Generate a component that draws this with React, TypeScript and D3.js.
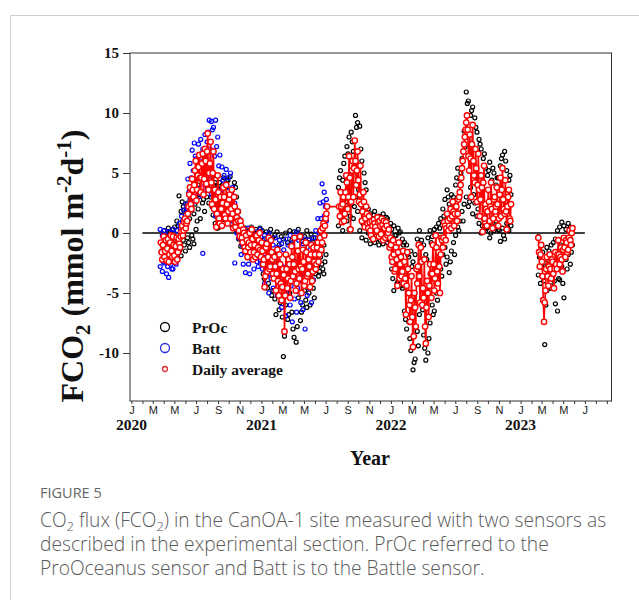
import React, { useEffect, useRef } from "react";
import * as d3 from "d3";

// Daily average FCO2 (mmol m-2 d-1), read every 2 days (two interleaved runs, 4-day step each)
const AVG_STEP = 4;
const avgStart1 = "2020-03-24";
const avg1 = [
  -0.8, -2.2, -0.3, -1.5, -2.3, -0.5, -1.8, -0.2, -2.0, -1.0, -2.4, -0.4, -1.6, -0.9,
  -0.3, 0.6, 0.2, 1.2, 0.8,
  1.6, 3.2, 2.4, 4.5,
  3.0, 5.2, 2.7, 4.8, 6.5, 3.4,
  5.8, 3.2, 7.0, 4.1, 8.3, 5.0, 7.6,
  2.4, 6.8, 3.6,
  0.5, 4.8, 1.2, 3.0,
  0.6, 3.8, 1.5, 4.0, 0.8, 2.8, 1.2, 3.6, 0.4, 2.2, 0.9, 1.8,
  0.2, 1.0, -0.4, 0.3,
  -1.2, -0.2, -2.0, -0.8, -1.6, 0.3, -2.2, -1.0, -0.3, -1.8, -0.6, -1.4,
  -0.8, -2.6, -4.5, -1.2, -3.2, -0.4, -2.8, -1.6, -3.4,
  -2.0, -4.8, -1.4, -5.2, -2.6, -5.6, -3.0, -8.2, -1.8, -4.6, -2.2, -5.4, -1.1,
  -3.6, -0.4, -4.8, -1.5, -3.0, -0.3, -5.0,
  -1.4, -4.4, -0.8, -3.6, -2.2, -4.5, -1.0, -3.2, -2.4,
  -3.0, -1.2, -2.4, -0.4, -1.4, 0.4, -0.2, 1.2,
  2.2,
];
const avgStart1b = "2020-03-26";
const avg1b = [
  -1.6, -1.0, -2.0, -0.6, -1.3, -2.4, -0.8, -1.5, -0.3, -1.9, -1.1, -2.2, -0.5,
  -1.2,
  0.1, -0.2, 0.9, 0.4,
  1.0, 2.2, 3.8, 2.0,
  3.6, 4.0, 6.0, 3.6, 5.5, 4.6,
  4.6, 6.6, 4.5, 6.0, 6.8, 3.6, 5.8,
  4.2, 5.0, 2.0,
  2.8, 1.6, 3.4, 0.8,
  2.0, 2.5, 3.0, 1.2, 2.4, 1.8, 3.2, 2.0, 1.6, 3.0, 0.5, 1.3,
  1.0, -0.3, 0.6, -0.8,
  0.0, -1.5, -0.6, -1.2, 0.0, -1.0, -0.5, -1.6, -2.0, -0.2, -1.2, 0.0,
  -2.0, -1.5, -2.2, -3.6, -0.9, -2.0, -3.0, -0.6, -2.2,
  -3.8, -2.8, -3.4, -4.0, -1.8, -4.2, -4.5, -3.5, -5.2, -3.0, -3.8, -2.6, -4.0,
  -2.0, -2.6, -3.2, -4.2, -1.5, -3.8, -2.8,
  -3.0, -2.4, -4.0, -1.6, -3.4, -2.8, -1.8, -4.0, -1.2,
  -1.8, -2.6, -0.8, -1.8, 0.2, -0.8, 0.8, 0.6, 1.6,
];
const avgStart2 = "2021-08-08";
const avg2 = [
  2.2, 3.4, 0.9, 3.0, 1.6,
  4.8, 2.0, 6.4, 0.3, 5.2, 3.0,
  7.7, 4.0, 6.8, 2.6, 5.6,
  1.0, 3.4, 0.5, 2.2, 0.8,
  1.4, 0.2, 1.0, -0.5, 0.8, 0.1, 1.3, -0.3, 0.6, 1.2, -0.6, 0.4, 0.9, -0.2, 0.3,
  -0.4, -2.0, -0.6, -3.2, -1.2, -4.4, -0.8, -2.6, -3.6, -1.5,
  -2.4, -6.8, -1.6, -5.0, -7.4,
  -3.6, -9.5, -5.0, -7.8, -4.2,
  -1.0, -5.8, -2.4, -4.6,
  -2.2, -9.2, -4.0, -7.0, -2.6, -5.4,
  -1.0, -4.8, -0.2, -3.2, -1.6, -5.0, -0.4,
  -1.2, 0.9, -0.6, 1.6, 0.2, 1.2, 0.4,
  2.6, 0.6, 2.2, 1.0, 2.8,
  3.4, 4.6, 6.0, 7.4, 8.6,
  9.8, 6.4, 8.2, 3.0, 9.0, 4.8, 7.0, 2.6,
  6.6, 1.4, 4.8, 0.1, 5.6, 2.4, 0.6,
  3.6, 1.0, 4.2, 0.4, 2.8, 1.8, 3.8,
  0.6, 3.2, 1.4, 5.4, 2.0, 4.4, 0.3, 3.0, 1.2, 2.4,
];
const avgStart2b = "2021-08-10";
const avg2b = [
  1.4, 2.2, 2.4, 1.0,
  3.4, 4.2, 3.0, 4.6, 2.6, 6.0,
  5.4, 6.0, 5.2, 4.4, 3.2,
  2.4, 1.8, 2.6, 1.2, 1.6,
  0.4, 0.9, -0.2, 0.6, 1.1, 0.5, 0.2, 0.9, 1.0, -0.1, 0.7, 1.0, -0.4, 0.6, 0.0,
  -1.2, -1.0, -2.4, -1.8, -3.0, -2.2, -1.6, -3.8, -2.0, -3.2,
  -4.2, -3.8, -4.4, -3.0, -6.0,
  -5.6, -7.0, -8.6, -6.2, -3.0,
  -2.8, -3.6, -1.2, -6.0,
  -5.4, -7.8, -6.2, -5.0, -4.4, -3.4,
  -3.4, -2.6, -3.8, -1.2, -4.2, -2.8, -1.8,
  -0.6, -0.4, 0.6, 0.4, 1.0, 0.6, 2.0,
  1.4, 1.8, 1.6, 2.2, 1.6,
  3.0, 4.0, 5.4, 6.8, 8.0,
  9.2, 8.6, 5.2, 6.2, 7.4, 6.0, 4.2, 5.4,
  4.0, 3.6, 2.8, 3.8, 4.2, 1.2, 2.0,
  1.8, 2.6, 2.2, 2.0, 1.2, 3.0, 2.2,
  2.4, 1.2, 4.6, 3.6, 2.8, 1.6, 1.8, 2.2, 3.6, 1.0,
];
const avgStart3 = "2023-02-20";
const avg3 = [
  -0.4, -2.8, -1.0, -3.6, -7.4, -4.8, -2.0, -4.4, -1.8, -3.8, -2.4, -4.6, -1.6,
  -3.0, -0.6, -2.6, -1.2, -3.2, -0.4, -2.0, -0.8, -1.4, 0.2, -1.0, 0.4,
];
const avgStart3b = "2023-02-22";
const avg3b = [
  -1.6, -1.8, -2.4, -5.6, -5.8, -3.0, -3.6, -2.8, -3.0, -2.2, -3.4, -3.0,
  -2.6, -1.8, -1.8, -2.0, -2.2, -1.4, -1.2, -0.6, -1.6, -0.4, -0.6, 0.0,
];

// PrOc sensor: upper, lower and in-between readings, every 6 days
const SENSOR_STEP = 6;
const procStart1 = "2020-04-02";
const procHi1 = [
  0.2, -0.3, 0.4, 0.1, 0.3, 0.5, 1.0,
  3.1, 1.8, 2.2, 1.5, 2.5, 1.2, 2.0, 1.6, 3.0,
  4.0, 5.5, 4.5, 6.0, 5.0,
  6.8, 5.5, 4.8, 4.2, 3.8,
  4.2, 3.5, 4.6, 3.8, 4.4, 4.7, 3.6, 4.2, 3.0, 1.8,
  0.6, 0.3, 0.4, -0.1, 0.2, 0.5, 0.0, 0.3, -0.2, 0.4,
  0.2, -0.5, 0.1, -0.8, 0.3, -0.4, -0.2, 0.1, -1.0, -0.3,
  -0.5, 0.0, -0.8, 0.2, -0.6, 0.1, -0.4, 0.3, -0.2, -0.7,
  -0.3, 0.2, -0.5, -0.1, -0.8, -0.4, -1.2, -0.6, -1.5, -1.0, 1.5,
];
const procLo1 = [
  -1.5, -2.2, -1.0, -1.8, -2.4, -1.2, -0.8,
  -1.0, -1.9, -0.6, -1.5, -0.4, -1.2, -0.2, -0.9, 0.3,
  2.0, 1.2, 2.5, 1.8, 3.0,
  2.5, 3.0, 1.5, 0.8, 0.4,
  0.5, 1.2, 0.8, 1.9, 1.0, 2.2, 0.5, 1.4, 0.2, -0.5,
  -1.1, -0.6, -0.9, -1.1, -0.4, -0.8, -1.0, -0.5, -1.2, -0.7,
  -2.5, -3.8, -2.0, -4.2, -3.0, -4.8, -5.5, -3.6, -6.4, -4.5,
  -10.3, -6.0, -7.2, -5.0, -6.6, -8.7, -9.1, -5.4, -7.3, -6.0,
  -4.8, -6.2, -5.0, -3.8, -4.6, -3.4, -2.8, -3.2, -2.6, -3.4, -1.8,
];
const procStart1m = "2020-04-05";
const procMid1 = [
  -0.6, -1.8, 0.0, -2.0, -0.4, -1.5, 0.6,
  -1.4, 2.6, -1.0, 1.9, -0.8, 2.2, -0.5, 2.4, 1.0,
  3.2, 4.6, 2.8, 5.2, 3.8,
  5.6, 2.2, 4.0, 1.6, 2.8,
  1.4, 4.0, 2.0, 4.4, 1.6, 3.6, 1.2, 3.8, 1.0, 0.6,
  -0.6, 0.0, -1.0, -0.3, -0.8, 0.2, -0.6, -1.0, 0.0, -0.9,
  -3.4, -1.0, -4.6, -2.0, -5.2, -1.6, -6.8, -2.4, -5.8, -7.0,
  -8.6, -3.0, -6.8, -2.6, -8.0, -4.0, -7.8, -2.4, -6.6, -3.6,
  -5.6, -2.4, -6.0, -3.0, -5.4, -2.2, -3.6, -2.0, -3.0, -2.4,
];
const procStart2 = "2021-08-06";
const procHi2 = [
  3.8, 5.2, 4.4, 6.4, 7.2,
  8.0, 8.4, 6.8, 9.8, 9.2,
  8.9, 6.0, 5.0, 3.6, 2.0,
  1.6, 1.2, 1.8, 0.9, 1.4, 1.0, 1.6, 0.8, 1.2, 0.5,
  0.3, 0.6, -0.2, 0.4, 0.1, -0.5,
  -0.8, -1.0, -2.0, -1.5,
  -2.4, -1.8, -0.5, 0.2, -0.6,
  -1.0, -1.8, -0.4, 0.2, -0.3,
  0.3, 0.5, 0.8, 1.2, 2.0,
  2.8, 3.6, 2.4, 3.2, 3.0,
  4.0, 5.4, 4.5, 6.2, 8.5,
  11.75, 11.0, 9.8, 10.5, 9.6, 8.4,
  7.8, 7.0, 6.2, 5.4, 4.8,
  5.9, 4.4, 5.0, 4.0, 4.6,
  5.6, 6.5, 6.8, 5.2, 4.4, 3.2,
];
const procLo2 = [
  0.6, 1.4, 0.2, 2.0, 1.0,
  0.3, 2.4, 1.2, 3.0, 1.8,
  0.2, -0.4, 1.0, -0.6, 0.0,
  -0.9, -0.3, -0.8, -0.5, -1.0, -0.4, -0.9, -0.2, -0.8, -0.6,
  -3.0, -4.8, -2.2, -4.0, -3.4, -4.6,
  -6.5, -8.0, -7.4, -9.8,
  -11.4, -10.5, -8.2, -6.8, -5.4,
  -8.5, -10.6, -10.0, -7.5, -6.0,
  -6.5, -5.0, -4.2, -3.0, -1.8,
  -1.2, -2.0, -3.3, -1.5, -0.8,
  -0.2, 0.5, 1.0, 1.8, 2.4,
  3.0, 2.2, 3.8, 1.6, 2.5, 1.4,
  0.8, 0.0, 1.2, 0.2, 0.5,
  -0.4, 0.6, 0.2, 1.0, 0.3,
  -0.7, 0.4, -0.5, 0.8, 0.2, 0.6,
];
const procStart2m = "2021-08-09";
const procMid2 = [
  4.6, 1.2, 5.8, 2.6, 6.6,
  1.4, 7.6, 2.2, 8.8, 3.6,
  7.0, 0.8, 4.2, 0.4, 1.4,
  -0.4, 1.5, 0.2, 1.2, -0.6, 0.9, 0.0, 1.3, -0.3, 0.8,
  -3.8, -0.2, -4.2, 0.0, -4.4, -1.0,
  -7.2, -1.8, -8.8, -2.8,
  -10.8, -3.0, -9.4, -1.0, -6.4,
  -9.6, -2.2, -8.8, -0.8, -6.8,
  -0.2, -5.6, 0.4, -3.6, 1.4,
  -2.6, 3.0, -2.4, 2.6, -1.8,
  4.6, 0.2, 5.0, 1.0, 7.2,
  10.8, 2.6, 10.2, 3.2, 8.8, 2.0,
  7.4, 0.6, 6.6, 0.4, 5.2,
  0.0, 5.4, 0.6, 4.6, 0.2,
  6.2, -0.2, 6.0, 0.4, 4.8,
];
const procStart3 = "2023-02-20";
const procHi3 = [-0.3, -1.0, -1.6, -2.5, -1.2, -1.5, -1.0, -0.8, -0.5, 0.2, 0.5, 0.9, 0.6, 0.3, 0.8, 0.5, 0.4];
const procLo3 = [-3.5, -4.2, -5.6, -9.3, -4.8, -3.6, -4.4, -3.2, -5.9, -6.5, -3.9, -2.8, -5.4, -2.2, -1.8, -2.6, -1.0];
const procStart3m = "2023-02-23";
const procMid3 = [-2.0, -2.8, -4.0, -6.0, -2.6, -4.6, -2.4, -4.0, -1.6, -3.8, -1.0, -4.2, -0.4, -3.0, 0.2, -1.6];

// Batt sensor: upper, lower and in-between readings, every 6 days
const battStart = "2020-03-22";
const battHi = [
  0.3, -0.2, 0.2, -0.5, 0.1, -0.8, 0.3, -0.3, 0.2,
  0.8, 1.4, 1.9, 2.4,
  4.5, 5.8, 6.9, 7.5, 6.2, 7.4,
  7.8, 7.0, 8.2, 7.6,
  9.4, 9.3, 8.8, 9.4, 8.0,
  6.5, 5.5, 4.8, 5.3, 4.6,
  5.0, 3.8, 2.5, 1.8, 1.2,
  0.5, 0.3, 0.0, 0.4, -0.3, 0.2, -0.5, 0.1, -0.2, 0.3,
  -0.6, -0.2, -0.8, 0.0, -0.5, -1.0, -0.4, -1.2, -0.6, -0.9,
  -1.4, -0.5, -1.0, -0.2, -0.8, -0.4, 0.1, -0.6, -0.3, -0.9,
  -0.5, -1.2, -0.6, -1.0, -0.4,
  0.2, 1.2, 2.5, 4.1, 3.4, 2.8,
];
const battLo = [
  -2.8, -3.2, -2.5, -3.4, -3.7, -2.6, -3.0, -2.2, -1.5,
  -0.4, 0.0, 0.5, 1.0,
  2.0, 2.8, 3.5, 2.6, 3.8, 3.0,
  3.4, -1.7, 4.0, 3.6,
  4.5, 3.2, 2.0, 1.4, 2.4,
  1.6, 2.4, 1.5, 2.0, 1.8,
  1.2, 1.0, -2.5, 0.0, -0.4,
  -1.8, -2.6, -3.3, -2.0, -3.4, -2.2, -3.0, -1.7, -2.8, -2.3,
  -3.0, -4.2, -3.5, -5.0, -3.8, -4.6, -2.8, -5.2, -4.0, -6.2,
  -5.4, -6.9, -4.8, -6.0, -7.4, -5.5, -6.6, -4.9, -5.8, -6.4,
  -8.0, -5.2, -4.6, -5.8, -3.9,
  -2.8, -2.0, -1.2, 0.5, 1.4, 1.0,
];
const battStartM = "2020-03-25";
const battMid = [
  -1.6, -2.4, -0.8, -2.8, -1.2, -3.0, -1.0, -2.6, -0.6,
  0.4, 1.0, 1.2, 2.0,
  3.4, 4.6, 5.2, 6.4, 4.8, 6.0,
  5.8, 6.4, 5.4, 8.4,
  7.0, 8.6, 6.4, 7.2, 5.6,
  3.6, 4.4, 3.0, 3.8, 2.8,
  3.4, 2.2, 1.4, 0.8, 0.4,
  -1.0, -1.6, -0.8, -2.6, -1.4, -0.8, -1.8, -2.4, -1.0, -1.4,
  -2.0, -3.0, -1.8, -3.4, -2.4, -2.8, -3.6, -2.4, -3.8, -2.8,
  -3.4, -4.0, -2.6, -4.4, -3.0, -2.4, -4.6, -2.8, -4.0, -3.4,
  -3.0, -2.4, -3.2, -2.0, -2.4,
  -1.4, 0.0, 1.2, 2.6, 2.2,
];

const yTicks = [15, 10, 5, 0, -5, -10];
const monthLetters = ["J", "F", "M", "A", "M", "J", "J", "A", "S", "O", "N", "D"];
const xStart = "2019-12-28";
const xEnd = "2023-09-14";
const zeroFrom = "2020-02-01";
const zeroTo = "2023-07-01";
const legendItems = ["PrOc", "Batt", "Daily average"];

const figureLabel = "FIGURE 5";
// "{2}" marks a subscript 2
const captionLines = [
  "CO{2} flux (FCO{2}) in the CanOA-1 site measured with two sensors as",
  "described in the experimental section. PrOc referred to the",
  "ProOceanus sensor and Batt is to the Battle sensor.",
];

const serif = "'Liberation Serif', 'Times New Roman', serif";
const sans = "'Liberation Sans', Arial, sans-serif";
const captionFont = "'Open Sans', sans-serif";

type Pt = { date: Date; value: number };

export default function App() {
  const ref = useRef<SVGSVGElement>(null);

  useEffect(() => {
    const svg = d3.select(ref.current);
    svg.selectAll("*").remove();

    const box = { left: 130, right: 611.5, top: 53, bottom: 401 };
    const parse = d3.timeParse("%Y-%m-%d");
    const day = (s: string) => parse(s) as Date;

    const x = d3.scaleTime().domain([day(xStart), day(xEnd)]).range([box.left, box.right]);
    const y = d3.scaleLinear().domain([-14, 15]).range([box.bottom, box.top]);

    const points = (start: string, step: number, vals: number[]): Pt[] =>
      vals.map((v, i) => ({ date: d3.timeDay.offset(day(start), i * step), value: v }));

    // page frame
    svg
      .append("rect")
      .attr("x", 10.5)
      .attr("y", 15.5)
      .attr("width", 700)
      .attr("height", 700)
      .attr("fill", "none")
      .attr("stroke", "#cfcfcf");

    // plot frame
    svg
      .append("rect")
      .attr("x", box.left)
      .attr("y", box.top)
      .attr("width", box.right - box.left)
      .attr("height", box.bottom - box.top)
      .attr("fill", "none")
      .attr("stroke", "#333")
      .attr("stroke-width", 1);

    // Y axis
    const yAxis = svg
      .append("g")
      .attr("transform", `translate(${box.left},0)`)
      .call(
        d3
          .axisLeft(y)
          .tickValues(yTicks)
          .tickSize(7)
          .tickPadding(4)
          .tickFormat((d) => String(d))
      );
    yAxis.select(".domain").remove();
    yAxis.selectAll("line").attr("stroke", "#333");
    yAxis
      .selectAll("text")
      .attr("font-family", serif)
      .attr("font-weight", "bold")
      .attr("font-size", 15)
      .attr("fill", "#111");

    // X axis (monthly ticks, letters every other month)
    const xAxis = svg
      .append("g")
      .attr("transform", `translate(0,${box.bottom})`)
      .call(
        d3
          .axisBottom(x)
          .ticks(d3.timeMonth.every(1))
          .tickSize(3)
          .tickPadding(2)
          .tickFormat((d) => {
            const dt = d as Date;
            if (dt.getMonth() % 2 !== 0 || x(dt) > box.right - 10) return "";
            return monthLetters[dt.getMonth()];
          })
      );
    xAxis.select(".domain").remove();
    xAxis.selectAll("line").attr("stroke", "#333");
    xAxis
      .selectAll("text")
      .attr("font-family", sans)
      .attr("font-size", 11)
      .attr("fill", "#222");

    // year labels under each January
    const years = d3.timeYear.range(day("2020-01-01"), day(xEnd));
    svg
      .append("g")
      .selectAll("text")
      .data(years)
      .join("text")
      .attr("x", (d) => x(d))
      .attr("y", 430)
      .attr("text-anchor", "middle")
      .attr("font-family", serif)
      .attr("font-weight", "bold")
      .attr("font-size", 15.5)
      .attr("fill", "#111")
      .text((d) => d3.timeFormat("%Y")(d));

    // axis titles
    svg
      .append("text")
      .attr("x", 370)
      .attr("y", 465)
      .attr("text-anchor", "middle")
      .attr("font-family", serif)
      .attr("font-weight", "bold")
      .attr("font-size", 20)
      .attr("fill", "#111")
      .text("Year");

    const yTitle = svg
      .append("text")
      .attr("transform", "translate(83,266) rotate(-90)")
      .attr("text-anchor", "middle")
      .attr("font-family", serif)
      .attr("font-weight", "bold")
      .attr("font-size", 32)
      .attr("fill", "#111");
    yTitle.append("tspan").text("FCO");
    yTitle.append("tspan").attr("dy", 7).attr("font-size", 21).text("2");
    yTitle.append("tspan").attr("dy", -7).text(" (mmol m");
    yTitle.append("tspan").attr("dy", -12).attr("font-size", 21).text("-2");
    yTitle.append("tspan").attr("dy", 12).text("d");
    yTitle.append("tspan").attr("dy", -12).attr("font-size", 21).text("-1");
    yTitle.append("tspan").attr("dy", 12).text(")");

    // zero reference line
    svg
      .append("line")
      .attr("x1", x(day(zeroFrom)))
      .attr("x2", x(day(zeroTo)))
      .attr("y1", y(0))
      .attr("y2", y(0))
      .attr("stroke", "#000")
      .attr("stroke-width", 1.4);

    const drawDots = (data: Pt[], color: string) =>
      svg
        .append("g")
        .selectAll("circle")
        .data(data)
        .join("circle")
        .attr("cx", (d) => x(d.date))
        .attr("cy", (d) => y(d.value))
        .attr("r", 2)
        .attr("fill", "none")
        .attr("stroke", color)
        .attr("stroke-width", 1.2);

    // PrOc readings
    drawDots(
      [
        ...points(procStart1, SENSOR_STEP, procHi1),
        ...points(procStart1, SENSOR_STEP, procLo1),
        ...points(procStart1m, SENSOR_STEP, procMid1),
        ...points(procStart2, SENSOR_STEP, procHi2),
        ...points(procStart2, SENSOR_STEP, procLo2),
        ...points(procStart2m, SENSOR_STEP, procMid2),
        ...points(procStart3, SENSOR_STEP, procHi3),
        ...points(procStart3, SENSOR_STEP, procLo3),
        ...points(procStart3m, SENSOR_STEP, procMid3),
      ],
      "#000"
    );

    // Batt readings
    drawDots(
      [
        ...points(battStart, SENSOR_STEP, battHi),
        ...points(battStart, SENSOR_STEP, battLo),
        ...points(battStartM, SENSOR_STEP, battMid),
      ],
      "#0000ff"
    );

    // daily average: line + circles
    const byDate = (a: Pt, b: Pt) => +a.date - +b.date;
    const avgRuns = [
      [
        ...points(avgStart1, AVG_STEP, avg1),
        ...points(avgStart1b, AVG_STEP, avg1b),
        ...points(avgStart2, AVG_STEP, avg2),
        ...points(avgStart2b, AVG_STEP, avg2b),
      ].sort(byDate),
      [...points(avgStart3, AVG_STEP, avg3), ...points(avgStart3b, AVG_STEP, avg3b)].sort(byDate),
    ];
    const line = d3
      .line<Pt>()
      .x((d) => x(d.date))
      .y((d) => y(d.value));
    svg
      .append("g")
      .selectAll("path")
      .data(avgRuns)
      .join("path")
      .attr("d", (d) => line(d))
      .attr("fill", "none")
      .attr("stroke", "#ff0000")
      .attr("stroke-width", 1.6);
    svg
      .append("g")
      .selectAll("circle")
      .data(avgRuns.flat())
      .join("circle")
      .attr("cx", (d) => x(d.date))
      .attr("cy", (d) => y(d.value))
      .attr("r", 2.7)
      .attr("fill", "#fff")
      .attr("stroke", "#ff0000")
      .attr("stroke-width", 1.4);

    // legend
    const legend = svg.append("g");
    const legendY = [327, 348, 369];
    const legendStyle = [
      { r: 4.5, stroke: "#000", fill: "none" },
      { r: 4.5, stroke: "#2b2bd6", fill: "none" },
      { r: 2.5, stroke: "#e03030", fill: "#fff" },
    ];
    legendItems.forEach((label, i) => {
      legend
        .append("circle")
        .attr("cx", 165)
        .attr("cy", legendY[i])
        .attr("r", legendStyle[i].r)
        .attr("fill", legendStyle[i].fill)
        .attr("stroke", legendStyle[i].stroke)
        .attr("stroke-width", 1.3);
      legend
        .append("text")
        .attr("x", 192)
        .attr("y", legendY[i] + 6)
        .attr("font-family", serif)
        .attr("font-weight", "bold")
        .attr("font-size", 15.5)
        .attr("fill", "#111")
        .text(label);
    });

    // caption
    svg
      .append("text")
      .attr("x", 40)
      .attr("y", 498)
      .attr("font-family", captionFont)
      .attr("font-size", 14.5)
      .attr("font-weight", 500)
      .attr("fill", "#666")
      .text(figureLabel);

    captionLines.forEach((ln, i) => {
      const t = svg
        .append("text")
        .attr("x", 40)
        .attr("y", 527 + i * 24)
        .attr("font-family", captionFont)
        .attr("font-size", 19.2)
        .attr("font-weight", 300)
        .attr("fill", "#595959");
      let lowered = false;
      ln.split(/(\{2\})/).forEach((part) => {
        if (part === "{2}") {
          t.append("tspan").attr("dy", 4).attr("font-size", 13).text("2");
          lowered = true;
        } else if (part) {
          const s = t.append("tspan").text(part);
          if (lowered) s.attr("dy", -4);
          lowered = false;
        }
      });
    });
  }, []);

  return (
    <svg
      ref={ref}
      width={639}
      height={600}
      style={{ position: "absolute", left: 0, top: 0, background: "#fff" }}
    />
  );
}
